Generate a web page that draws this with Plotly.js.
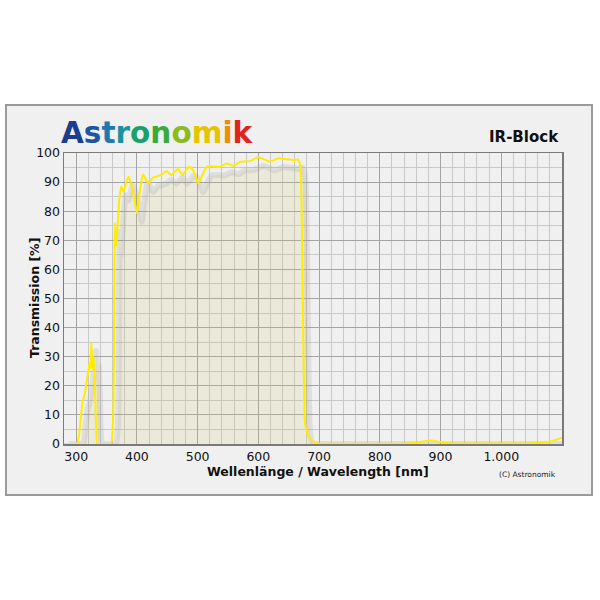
<!DOCTYPE html>
<html>
<head>
<meta charset="utf-8">
<script src="https://cdn.plot.ly/plotly-3.0.1.min.js"></script>
<style>html,body{margin:0;padding:0;background:#fff;}#chart{width:600px;height:600px;}</style>
</head>
<body>
<div id="chart"></div>
<script>
// ---- data ----
const wavelength = [280, 300, 304, 308, 311, 314, 317, 320, 322, 324, 325, 327, 329, 331, 333, 335, 345, 357, 361, 363, 364, 366, 368, 371, 374, 378, 381, 386, 391, 396, 400, 405, 410, 419, 426, 432, 440, 449, 457, 462, 468, 475, 480, 486, 492, 496, 501, 508, 515, 525, 537, 548, 559, 570, 586, 600, 610, 619, 626, 633, 643, 652, 660, 665, 668, 670, 672, 674, 677, 681, 685, 690, 696, 710, 750, 800, 850, 870, 885, 900, 920, 1000, 1050, 1080, 1100];
const transmission = [0, 0, 2, 10, 15, 17, 21, 25, 28, 26, 35, 26, 30, 20, 5, 0, 0, 0, 10, 60, 76, 68, 74, 84, 88.5, 86.7, 89, 91.8, 89, 84, 79.4, 87, 92.7, 89.6, 91.5, 91.9, 92.5, 93.8, 92.4, 93.5, 94.5, 92.4, 93.8, 95.3, 94.3, 92.5, 89.6, 92.5, 95.3, 95.4, 95.3, 96.4, 95.6, 97, 97.2, 98.5, 97.8, 97, 97.6, 98.2, 97.9, 97.8, 97.5, 97.9, 96.5, 93, 70, 36, 7, 3.5, 2, 1, 0.3, 0.1, 0.1, 0.1, 0.3, 0.8, 1.2, 0.6, 0.2, 0.2, 0.3, 0.8, 2.2];
const xTickVals = [300, 400, 500, 600, 700, 800, 900, 1000];
const xTickText = ['300', '400', '500', '600', '700', '800', '900', '1.000'];
const logoLetters = ['A','s','t','r','o','n','o','m','i','k'];
const logoColors = ['#1b3d8f','#1d55a3','#1f78b0','#1a939f','#1aa06a','#3aaa3a','#8cbb1e','#e6c400','#f08c00','#e2231a'];
const filterName = 'IR-Block';

// ---- layout helpers (pixel -> paper) ----
const L = 64, R = 562, T = 153, B = 444;
const W = R - L, H = B - T;
const px = x => (x - L) / W;
const py = y => (B - y) / H;

const shadowX = wavelength.map(v => v + 8);
const shadowY = transmission.map(v => Math.max(0, v - 3));

const logoText = logoLetters.map((c, i) => `<span style="color:${logoColors[i]}">${c}</span>`).join('');

const traces = [
  {x: shadowX, y: shadowY, mode: 'lines', fill: 'tozeroy',
   fillcolor: 'rgba(215,200,110,0.17)',
   line: {color: 'rgba(150,150,150,0.20)', width: 6, shape: 'spline', smoothing: 0.5},
   hoverinfo: 'skip', showlegend: false},
  {x: wavelength, y: transmission, mode: 'lines',
   line: {color: '#ffec00', width: 2, shape: 'spline', smoothing: 0.5},
   showlegend: false}
];

const layout = {
  width: 600, height: 600,
  margin: {l: L, r: 600 - R, t: T, b: 600 - B, pad: 0},
  paper_bgcolor: '#ffffff',
  plot_bgcolor: '#f3f3f3',
  font: {family: 'DejaVu Sans', color: '#111', size: 12.5},
  xaxis: {
    range: [280, 1100], tickmode: 'array', tickvals: xTickVals, ticktext: xTickText,
    showgrid: true, gridcolor: '#a4a4a4', gridwidth: 1,
    minor: {tickmode: 'linear', tick0: 300, dtick: 20, showgrid: true, gridcolor: '#c8c8c8', gridwidth: 1},
    showline: true, linecolor: '#7a7a7a', linewidth: 1.5, mirror: true,
    ticks: '', zeroline: false, fixedrange: true,
    tickfont: {size: 12.5, color: '#111'}
  },
  yaxis: {
    range: [0, 100], dtick: 10, tick0: 0,
    showgrid: true, gridcolor: '#a4a4a4', gridwidth: 1,
    minor: {dtick: 5, showgrid: true, gridcolor: '#c8c8c8', gridwidth: 1},
    showline: true, linecolor: '#7a7a7a', linewidth: 1.5, mirror: true,
    ticks: '', zeroline: false, fixedrange: true,
    tickfont: {size: 12.5, color: '#111'}
  },
  shapes: [
    {type: 'rect', xref: 'paper', yref: 'paper', layer: 'below',
     x0: px(6), x1: px(592), y0: py(105), y1: py(495),
     fillcolor: '#f0f0f0', line: {color: '#9a9a9a', width: 2}}
  ],
  annotations: [
    {xref: 'paper', yref: 'paper', x: px(157), y: py(133), xanchor: 'center', yanchor: 'middle',
     text: `<b>${logoText}</b>`, showarrow: false, font: {family: 'DejaVu Sans', size: 29.5}},
    {xref: 'paper', yref: 'paper', x: px(561), y: py(137), xanchor: 'right', yanchor: 'middle',
     text: `<b>${filterName}</b>`, showarrow: false, font: {family: 'DejaVu Sans', size: 15, color: '#111'}},
    {xref: 'paper', yref: 'paper', x: px(318), y: py(471), xanchor: 'center', yanchor: 'middle',
     text: '<b>Wellenlänge / Wavelength [nm]</b>', showarrow: false, font: {family: 'DejaVu Sans', size: 12.5, color: '#111'}},
    {xref: 'paper', yref: 'paper', x: px(34), y: py(298), xanchor: 'center', yanchor: 'middle', textangle: -90,
     text: '<b>Transmission [%]</b>', showarrow: false, font: {family: 'DejaVu Sans', size: 12.5, color: '#111'}},
    {xref: 'paper', yref: 'paper', x: px(558), y: py(474), xanchor: 'right', yanchor: 'middle',
     text: '(C) Astronomik', showarrow: false, font: {family: 'DejaVu Sans', size: 7.5, color: '#222'}}
  ]
};

Plotly.newPlot('chart', traces, layout, {displayModeBar: false, staticPlot: true});
</script>
</body>
</html>
